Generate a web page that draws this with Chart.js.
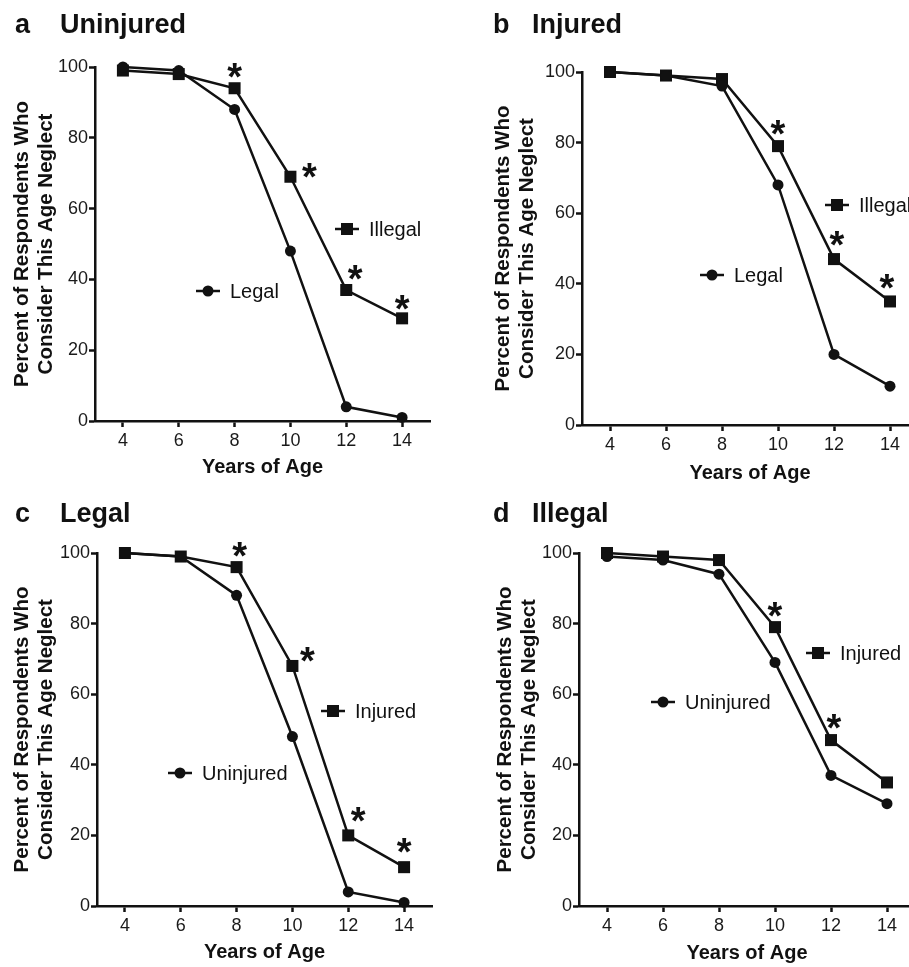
<!DOCTYPE html>
<html>
<head>
<meta charset="utf-8">
<script src="https://cdn.jsdelivr.net/npm/chart.js@4.4.0/dist/chart.umd.min.js"></script>
<style>
html, body { margin: 0; padding: 0; background: #fff; width: 909px; height: 967px; overflow: hidden; }
canvas { position: absolute; }
</style>
</head>
<body>
<canvas id="chartA" width="455" height="487" style="left:0px;top:0px;width:455px;height:487px"></canvas>
<canvas id="chartB" width="460" height="487" style="left:470px;top:0px;width:460px;height:487px"></canvas>
<canvas id="chartC" width="455" height="487" style="left:0px;top:480px;width:455px;height:487px"></canvas>
<canvas id="chartD" width="460" height="487" style="left:470px;top:480px;width:460px;height:487px"></canvas>
<script>
var ages = [4, 6, 8, 10, 12, 14];
var yTicks = [0, 20, 40, 60, 80, 100];

// a - Uninjured
var uninjuredLegal = [100, 99, 88, 48, 4, 1];
var uninjuredIllegal = [99, 98, 94, 69, 37, 29];
var uninjuredStars = [8, 10, 12, 14];

// b - Injured
var injuredLegal = [100, 99, 96, 68, 20, 11];
var injuredIllegal = [100, 99, 98, 79, 47, 35];
var injuredStars = [10, 12, 14];

// c - Legal
var legalUninjured = [100, 99, 88, 48, 4, 1];
var legalInjured = [100, 99, 96, 68, 20, 11];
var legalStars = [8, 10, 12, 14];

// d - Illegal
var illegalUninjured = [99, 98, 94, 69, 37, 29];
var illegalInjured = [100, 99, 98, 79, 47, 35];
var illegalStars = [10, 12];

var INK = '#111';
var FONT = '"Liberation Sans", Arial, Helvetica, sans-serif';
Chart.defaults.font.family = FONT;
Chart.defaults.color = '#1a1a1a';

function toPoints(values) {
    return ages.map(function (a, i) { return { x: a, y: values[i] }; });
}

function drawMarker(ctx, style, x, y) {
    ctx.beginPath();
    if (style == 'rect') {
        ctx.rect(x - 6, y - 6, 12, 12);
    } else {
        ctx.arc(x, y, 5.5, 0, Math.PI * 2);
    }
    ctx.fill();
}

// panel letter, title, inline legend and the significance stars
var panelDecor = {
    id: 'panelDecor',
    afterDatasetsDraw: function (chart, args, opts) {
        var ctx = chart.ctx;
        ctx.save();
        ctx.fillStyle = INK;
        ctx.strokeStyle = INK;

        ctx.textAlign = 'left';
        ctx.textBaseline = 'alphabetic';
        ctx.font = 'bold 27px ' + FONT;
        ctx.fillText(opts.letter, opts.letterX, opts.titleY);
        ctx.fillText(opts.title, opts.titleX, opts.titleY);

        ctx.font = '20px ' + FONT;
        ctx.textBaseline = 'middle';
        ctx.lineWidth = 2.5;
        opts.legend.forEach(function (item) {
            var ds = chart.data.datasets[item.dataset];
            ctx.beginPath();
            ctx.moveTo(item.x - 12, item.y);
            ctx.lineTo(item.x + 12, item.y);
            ctx.stroke();
            drawMarker(ctx, ds.pointStyle, item.x, item.y);
            ctx.fillText(ds.label, item.x + 22, item.y + 1);
        });

        var meta = chart.getDatasetMeta(1);
        ctx.font = 'bold 38px ' + FONT;
        ctx.textAlign = 'center';
        ctx.textBaseline = 'alphabetic';
        opts.stars.forEach(function (age, k) {
            var pt = meta.data[ages.indexOf(age)];
            var off = opts.starOffsets[k];
            ctx.fillText('*', pt.x + off[0], pt.y + off[1] + 22);
        });
        ctx.restore();
    }
};

function makePanel(canvasId, p) {
    var ctx = document.getElementById(canvasId).getContext('2d');
    return new Chart(ctx, {
        type: 'line',
        data: {
            datasets: [{
                label: p.circleLabel,
                data: toPoints(p.circleValues),
                pointStyle: 'circle',
                pointRadius: 5.5,
                borderColor: INK,
                borderWidth: 2.5,
                pointBackgroundColor: INK,
                pointBorderColor: INK,
                pointBorderWidth: 0,
                tension: 0,
                clip: false
            }, {
                label: p.squareLabel,
                data: toPoints(p.squareValues),
                pointStyle: 'rect',
                pointRadius: 8.5,
                borderColor: INK,
                borderWidth: 2.5,
                pointBackgroundColor: INK,
                pointBorderColor: INK,
                pointBorderWidth: 0,
                tension: 0,
                clip: false
            }]
        },
        options: {
            responsive: false,
            animation: false,
            devicePixelRatio: 1,
            events: [],
            layout: { padding: { left: 0, top: p.area.t, right: p.width - p.area.r, bottom: 0 } },
            plugins: {
                legend: { display: false },
                tooltip: { enabled: false },
                panelDecor: p.decor
            },
            scales: {
                x: {
                    type: 'linear',
                    min: 3,
                    max: 15,
                    afterBuildTicks: function (s) { s.ticks = ages.map(function (v) { return { value: v }; }); },
                    afterFit: function (s) { s.height = p.height - p.area.b; },
                    ticks: { font: { size: 18 }, padding: 3, color: '#1a1a1a' },
                    grid: { display: true, drawOnChartArea: false, drawTicks: true, tickLength: 6, tickWidth: 2.5, tickColor: INK },
                    border: { display: true, width: 2.5, color: INK },
                    title: { display: true, text: 'Years of Age', font: { size: 20, weight: 'bold', lineHeight: 1.2 }, color: INK, padding: { top: 0, bottom: p.xTitlePad } }
                },
                y: {
                    min: 0,
                    max: 100,
                    afterBuildTicks: function (s) { s.ticks = yTicks.map(function (v) { return { value: v }; }); },
                    afterFit: function (s) { s.width = p.area.l; },
                    ticks: { font: { size: 18 }, padding: 1, color: '#1a1a1a' },
                    grid: { display: true, drawOnChartArea: false, drawTicks: true, tickLength: 6, tickWidth: 2.5, tickColor: INK },
                    border: { display: true, width: 2.5, color: INK },
                    title: { display: true, text: ['Percent of Respondents Who', 'Consider This Age Neglect'], font: { size: 20.5, weight: 'bold', lineHeight: 1.15 }, color: INK, padding: { top: p.yTitlePad, bottom: 0 } }
                }
            }
        },
        plugins: [panelDecor]
    });
}

makePanel('chartA', {
    width: 455, height: 487,
    area: { l: 95, t: 67, r: 430, b: 421 },
    xTitlePad: 8, yTitlePad: 10.5,
    circleLabel: 'Legal', circleValues: uninjuredLegal,
    squareLabel: 'Illegal', squareValues: uninjuredIllegal,
    decor: {
        letter: 'a', letterX: 15, title: 'Uninjured', titleX: 60, titleY: 33,
        legend: [{ dataset: 1, x: 347, y: 229 }, { dataset: 0, x: 208, y: 291 }],
        stars: uninjuredStars,
        starOffsets: [[0, -20], [19, -9], [9, -20], [0, -18]]
    }
});

makePanel('chartB', {
    width: 460, height: 487,
    area: { l: 112, t: 72, r: 448, b: 425 },
    xTitlePad: 2, yTitlePad: 21.5,
    circleLabel: 'Legal', circleValues: injuredLegal,
    squareLabel: 'Illegal', squareValues: injuredIllegal,
    decor: {
        letter: 'b', letterX: 23, title: 'Injured', titleX: 62, titleY: 33,
        legend: [{ dataset: 1, x: 367, y: 205 }, { dataset: 0, x: 242, y: 275 }],
        stars: injuredStars,
        starOffsets: [[0, -21], [3, -23], [-3, -22]]
    }
});

makePanel('chartC', {
    width: 455, height: 487,
    area: { l: 97, t: 73, r: 432, b: 426 },
    xTitlePad: 3, yTitlePad: 10.5,
    circleLabel: 'Uninjured', circleValues: legalUninjured,
    squareLabel: 'Injured', squareValues: legalInjured,
    decor: {
        letter: 'c', letterX: 15, title: 'Legal', titleX: 60, titleY: 42,
        legend: [{ dataset: 1, x: 333, y: 231 }, { dataset: 0, x: 180, y: 293 }],
        stars: legalStars,
        starOffsets: [[3, -20], [15, -14], [10, -23], [0, -24]]
    }
});

makePanel('chartD', {
    width: 460, height: 487,
    area: { l: 109, t: 73, r: 445, b: 426 },
    xTitlePad: 2, yTitlePad: 23.5,
    circleLabel: 'Uninjured', circleValues: illegalUninjured,
    squareLabel: 'Injured', squareValues: illegalInjured,
    decor: {
        letter: 'd', letterX: 23, title: 'Illegal', titleX: 62, titleY: 42,
        legend: [{ dataset: 1, x: 348, y: 173 }, { dataset: 0, x: 193, y: 222 }],
        stars: illegalStars,
        starOffsets: [[0, -20], [3, -21]]
    }
});
</script>
</body>
</html>
